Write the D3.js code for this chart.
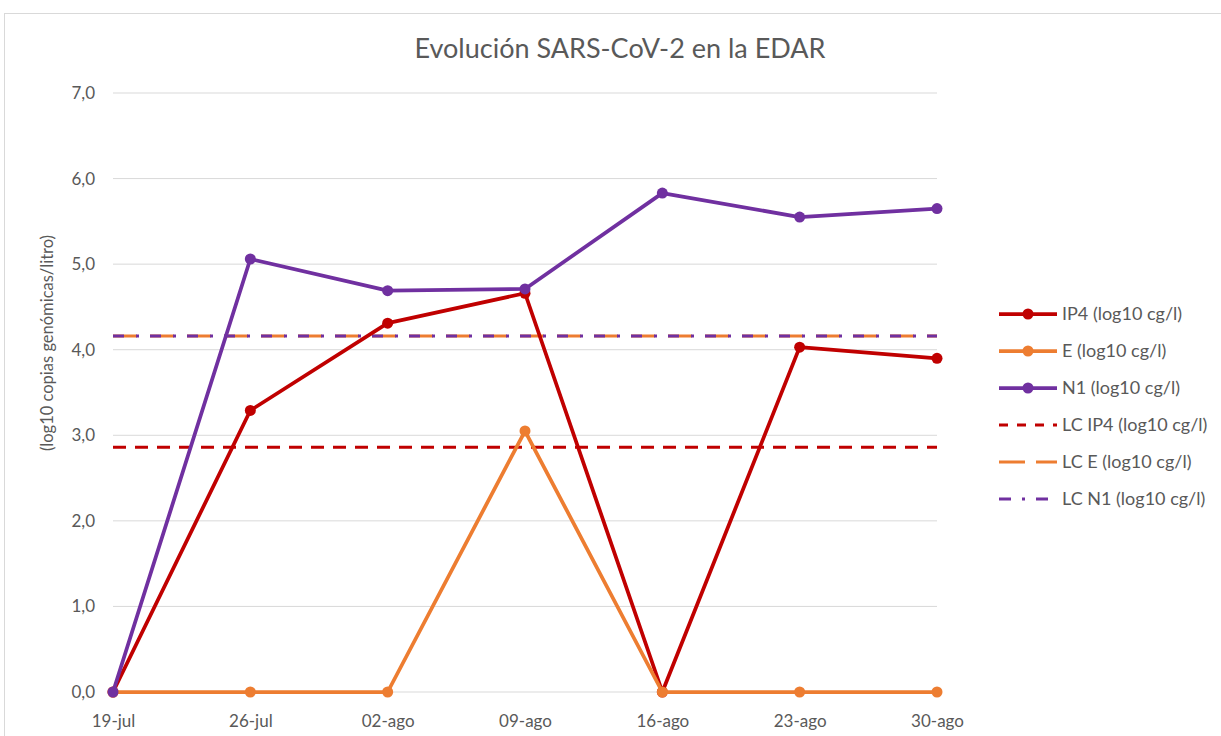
<!DOCTYPE html>
<html><head><meta charset="utf-8">
<script src="https://cdn.jsdelivr.net/npm/d3@7"></script>
<style>body{margin:0;background:#fff;} svg{display:block;} text{font-family:Lato,"Open Sans",sans-serif;fill:#595959;}</style>
</head><body>
<svg id="c" width="1221" height="736"></svg>
<script>
const categories = ["19-jul","26-jul","02-ago","09-ago","16-ago","23-ago","30-ago"];
const ip4 = [0, 3.29, 4.31, 4.66, 0, 4.03, 3.90];
const eGene = [0, 0, 0, 3.05, 0, 0, 0];
const n1 = [0, 5.06, 4.69, 4.71, 5.83, 5.55, 5.65];
const lcIp4 = [2.86,2.86,2.86,2.86,2.86,2.86,2.86];
const lcE = [4.16,4.16,4.16,4.16,4.16,4.16,4.16];
const lcN1 = [4.16,4.16,4.16,4.16,4.16,4.16,4.16];
const yTicks = [0,1,2,3,4,5,6,7];
const title = "Evolución SARS-CoV-2 en la EDAR";
const yTitle = "(log10 copias genómicas/litro)";

const svg = d3.select("#c");
svg.append("rect").attr("x",4.5).attr("y",13.5).attr("width",1300).attr("height",800)
  .attr("fill","#fff").attr("stroke","#d9d9d9");

const x = d3.scalePoint().domain(categories).range([113,937]);
const y = d3.scaleLinear().domain([0,7]).range([692,93]);

// grid
svg.append("g").selectAll("line").data(yTicks).join("line")
  .attr("x1",113).attr("x2",937).attr("y1",d=>y(d)).attr("y2",d=>y(d))
  .attr("stroke","#d9d9d9").attr("stroke-width",1);

const fmt = d => d.toFixed(1).replace(".",",");
const yAxis = d3.axisLeft(y).tickValues(yTicks).tickFormat(fmt).tickSize(0).tickPadding(18);
const ga = svg.append("g").attr("transform","translate(113,0)").call(yAxis);
ga.select(".domain").remove();
ga.selectAll("text").attr("font-size",17).attr("fill","#595959").style("font-family","Lato,'Open Sans',sans-serif");

const xAxis = d3.axisBottom(x).tickSize(0).tickPadding(10);
const gx = svg.append("g").attr("transform","translate(0,705)").call(xAxis);
gx.select(".domain").remove();
gx.selectAll("text").attr("font-size",17).attr("fill","#595959").style("font-family","Lato,'Open Sans',sans-serif");

// LC lines
const line = d3.line().x((d,i)=>x(categories[i])).y(d=>y(d));
svg.append("path").datum(lcIp4).attr("d",line).attr("fill","none").attr("stroke","#C00000")
  .attr("stroke-width",3).attr("stroke-dasharray","13,9");
svg.append("path").datum(lcE).attr("d",line).attr("fill","none").attr("stroke","#ED7D31")
  .attr("stroke-width",3).attr("stroke-dasharray","24,13");
svg.append("path").datum(lcN1).attr("d",line).attr("fill","none").attr("stroke","#7030A0")
  .attr("stroke-width",3).attr("stroke-dasharray","11,12,3,11");

const series = [
  {name:"IP4 (log10 cg/l)", values:ip4, color:"#C00000"},
  {name:"E (log10 cg/l)", values:eGene, color:"#ED7D31"},
  {name:"N1 (log10 cg/l)", values:n1, color:"#7030A0"}
];
series.forEach(s=>{
  svg.append("path").datum(s.values).attr("d",line).attr("fill","none")
    .attr("stroke",s.color).attr("stroke-width",3.75).attr("stroke-linejoin","round");
  svg.append("g").selectAll("circle").data(s.values).join("circle")
    .attr("cx",(d,i)=>x(categories[i])).attr("cy",d=>y(d)).attr("r",5.5).attr("fill",s.color);
});

// title
svg.append("text").attr("x",620).attr("y",58).attr("text-anchor","middle")
  .attr("font-size",27).text(title);
// y title
svg.append("text").attr("transform","translate(53,343) rotate(-90)").attr("text-anchor","middle")
  .attr("font-size",16.5).text(yTitle);

// legend
const legend = [
  {name:"IP4 (log10 cg/l)", color:"#C00000", dash:null, marker:true},
  {name:"E (log10 cg/l)", color:"#ED7D31", dash:null, marker:true},
  {name:"N1 (log10 cg/l)", color:"#7030A0", dash:null, marker:true},
  {name:"LC IP4 (log10 cg/l)", color:"#C00000", dash:"9,9", marker:false},
  {name:"LC E (log10 cg/l)", color:"#ED7D31", dash:"26,11", marker:false},
  {name:"LC N1 (log10 cg/l)", color:"#7030A0", dash:"12,11,3,11", marker:false}
];
const lg = svg.append("g");
legend.forEach((d,i)=>{
  const yy = 314 + i*37;
  lg.append("line").attr("x1",999).attr("x2",1057).attr("y1",yy).attr("y2",yy)
    .attr("stroke",d.color).attr("stroke-width",d.marker?3.75:3)
    .attr("stroke-dasharray",d.dash);
  if(d.marker) lg.append("circle").attr("cx",1028).attr("cy",yy).attr("r",5.5).attr("fill",d.color);
  lg.append("text").attr("x",1062).attr("y",yy+6).attr("font-size",18).text(d.name);
});
</script>
</body></html>
